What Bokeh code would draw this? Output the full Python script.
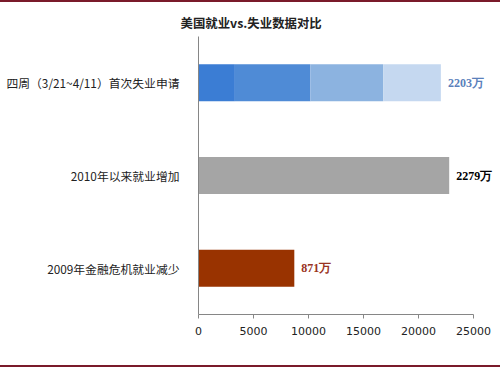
from bokeh.plotting import figure
from bokeh.models import ColumnDataSource, LabelSet, FactorRange, Range1d, FixedTicker
from bokeh.embed import file_html
from bokeh.resources import INLINE

title_text = "美国就业vs.失业数据对比"
categories = ["四周（3/21~4/11）首次失业申请", "2010年以来就业增加", "2009年金融危机就业减少"]
weekly_claims = [3307, 6867, 6615, 5245]          # 3/21, 3/28, 4/4, 4/11
weekly_colors = ["#3b7dd4", "#4f8bd6", "#8cb3e0", "#c5d8f0"]
other_values = [22790, 8710]
other_colors = ["#a5a5a5", "#993300"]
value_labels = ["2203万", "2279万", "871万"]
label_colors = ["#5a80bb", "#000000", "#993322"]
x_ticks = [0, 5000, 10000, 15000, 20000, 25000]

W, H = 500, 367
p = figure(width=W, height=H, output_backend="svg", toolbar_location=None,
           y_range=FactorRange(factors=categories[::-1], range_padding=0),
           x_range=Range1d(0, 27454),
           min_border_left=198, min_border_right=0, min_border_top=34, min_border_bottom=55)
p.margin = (0, 0, 0, 0)
p.styles = {"border-top": "2px solid #7a1a2a", "border-bottom": "2px solid #7a1a2a",
            "border-left": "none", "border-right": "none",
            "box-sizing": "border-box"}

# stacked bar of weekly claims
keys = ["w%d" % i for i in range(len(weekly_claims))]
stack_data = {"cat": [categories[0]]}
for k, v in zip(keys, weekly_claims):
    stack_data[k] = [v]
p.hbar_stack(keys, y="cat", height=0.4, source=ColumnDataSource(stack_data),
             color=weekly_colors, line_color=None)

# single bars
p.hbar(y=categories[1:], right=other_values, height=0.4, color=other_colors, line_color=None)

totals = [sum(weekly_claims)] + other_values
lab_src = ColumnDataSource(dict(x=totals, y=categories, text=value_labels, c=label_colors))
p.add_layout(LabelSet(x="x", y="y", text="text", source=lab_src, x_offset=7,
                      text_color="c", text_font_size="12px", text_font_style="bold",
                      text_baseline="middle", text_font="Noto Sans CJK SC"))

p.title.text = title_text
p.title.align = "left"
p.title.offset = -18
p.title.text_font = "Noto Sans CJK SC"
p.title.text_font_size = "12.4px"
p.title.text_font_style = "bold"
p.title.text_color = "#222222"

p.xgrid.visible = False
p.ygrid.visible = False
p.outline_line_color = None

p.xaxis.ticker = FixedTicker(ticks=x_ticks)
p.xaxis.bounds = (x_ticks[0], x_ticks[-1])
p.xaxis.axis_line_color = "#868686"
p.xaxis.major_tick_line_color = "#868686"
p.xaxis.major_tick_out = 4
p.xaxis.major_tick_in = 0
p.xaxis.minor_tick_line_color = None
p.xaxis.major_label_text_font = "DejaVu Sans"
p.xaxis.major_label_text_font_size = "11px"
p.xaxis.major_label_text_color = "#222222"
p.xaxis.major_label_standoff = 8

p.yaxis.axis_line_color = "#868686"
p.yaxis.major_tick_line_color = None
p.yaxis.major_label_text_font = "Noto Sans CJK SC"
p.yaxis.major_label_text_font_size = "11.8px"
p.yaxis.major_label_text_color = "#222222"
p.yaxis.major_label_standoff = 13

p.border_fill_color = "white"
p.background_fill_color = "white"

open("out.html", "w").write(file_html(p, INLINE))
